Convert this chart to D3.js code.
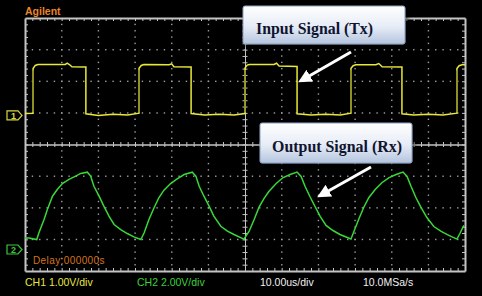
<!DOCTYPE html>
<html>
<head>
<meta charset="utf-8">
<script src="https://cdn.jsdelivr.net/npm/d3@7"></script>
<style>
body { margin: 0; background: #000; }
svg { display: block; }
</style>
</head>
<body>
<div id="chart"></div>
<script>
// ---- data: time in us, volts ----
const ch1Points = [
	[-60, 0.03], [-57.8, 0.04], [-57.8, 1.45], [-57.2, 1.55], [-56.5, 1.58], [-49, 1.58], [-48.5, 1.62], [-47.8, 1.57], [-47.2, 1.51], [-43.4, 1.50],
	[-43.4, 0.02], [-40, -0.03], [-36, 0.01], [-32, -0.02], [-28.9, 0.04],
	[-28.9, 1.46], [-28.3, 1.55], [-27.6, 1.58], [-20.7, 1.57], [-20.0, 1.60], [-19.4, 1.51], [-14.7, 1.50],
	[-14.7, 0.03], [-11, -0.02], [-7, 0.01], [-3, -0.02], [0, 0.03],
	[0, 1.47], [0.6, 1.56], [1.2, 1.58], [7.9, 1.58], [8.6, 1.62], [9.3, 1.53], [14.2, 1.52],
	[14.2, 0.02], [18, -0.02], [22, 0.01], [26, -0.02], [28.9, 0.04],
	[28.9, 1.46], [29.5, 1.54], [30.2, 1.57], [35.7, 1.57], [36.5, 1.61], [37.4, 1.51], [42.8, 1.50],
	[42.8, 0.02], [46, -0.02], [50, 0.01], [54, -0.02], [57.8, 0.04],
	[57.8, 1.45], [58.4, 1.54], [59.2, 1.57], [60, 1.57]
]

const ch2Points = [
	[-60, 0.73], [-58.9, 0.73], [-56.8, 0.63], [-56.2, 1.06], [-54.8, 1.90], [-53.9, 2.53], [-52.5, 3.37], [-51.2, 3.79], [-49.8, 4.17], [-48.0, 4.43],
	[-46.2, 4.64], [-44.8, 4.81], [-43.0, 4.89], [-42.1, 4.64], [-41.2, 4.00], [-39.8, 3.37], [-38.5, 2.74], [-37.1, 2.11], [-35.7, 1.58], [-33.9, 1.26],
	[-32.1, 1.01], [-30.3, 0.80], [-28.4, 0.63],
	[-27.5, 1.06], [-26.2, 1.90], [-24.8, 2.64], [-23.5, 3.27], [-22.1, 3.75], [-20.3, 4.17], [-18.5, 4.47], [-16.6, 4.74], [-14.4, 4.89],
	[-13.4, 4.64], [-12.5, 4.00], [-11.2, 3.37], [-9.8, 2.74], [-8.5, 2.11], [-6.6, 1.47], [-4.8, 1.16], [-3.0, 0.95], [-0.3, 0.66],
	[1.1, 1.14], [2.5, 1.90], [3.8, 2.66], [5.2, 3.23], [6.5, 3.67], [8.5, 4.17], [10.4, 4.55], [12.3, 4.74], [14.2, 4.90],
	[15.3, 4.62], [16.4, 3.98], [17.7, 3.35], [19.1, 2.72], [20.5, 2.09], [22.1, 1.52], [24.0, 1.20], [25.9, 0.95], [28.9, 0.66],
	[29.7, 1.14], [31.1, 1.96], [32.5, 2.72], [33.8, 3.29], [35.5, 3.79], [37.4, 4.24], [39.3, 4.55], [41.2, 4.74], [43.1, 4.90],
	[44.2, 4.62], [45.3, 3.98], [46.6, 3.29], [48.0, 2.66], [49.6, 2.02], [51.5, 1.45], [53.5, 1.14], [55.6, 0.89], [57.8, 0.66],
	[58.6, 1.01], [59.7, 1.52]
]

const statusLabels = ["CH1 1.00V/div", "CH2 2.00V/div", "10.00us/div", "10.0MSa/s"]
const statusColors = ["#e6e640", "#3cd03c", "#f0f0f0", "#f0f0f0"]
const calloutLabels = ["Input Signal (Tx)", "Output Signal (Rx)"]

const width = 482
const height = 296
const plot = { left: 25, right: 465, top: 18, bottom: 271 }

// 12 horizontal divisions of 10 us, 8 vertical divisions
const x = d3.scaleLinear().domain([-60, 60]).range([plot.left, plot.right])
const yDiv = d3.scaleLinear().domain([-4, 4]).range([plot.bottom, plot.top])
// CH1 1 V/div, ground 0.95 div above centre ; CH2 2 V/div, ground 3.32 div below
const y1 = d3.scaleLinear().domain([-4.95, 3.05]).range([plot.bottom, plot.top])
const y2 = d3.scaleLinear().domain([-1.36, 14.64]).range([plot.bottom, plot.top])

const svg = d3.select("#chart")
	.append("svg")
	.attr("width", width)
	.attr("height", height)

svg.append("rect")
	.attr("width", width)
	.attr("height", height)
	.attr("fill", "#000")

// ---- dotted grid ----
const grid = svg.append("g").attr("fill", "#a0a0a0")
const minorX = d3.range(-58, 60, 2)
const minorY = d3.range(-3.8, 4, 0.2)

d3.range(-50, 60, 10).filter(t => t != 0).forEach(t => {
	grid.selectAll(null)
		.data(minorY)
		.enter()
		.append("rect")
		.attr("x", x(t) - 0.6)
		.attr("y", d => yDiv(d) - 0.6)
		.attr("width", 1.4)
		.attr("height", 1.4)
})

d3.range(-3, 4, 1).filter(v => v != 0).forEach(v => {
	grid.selectAll(null)
		.data(minorX)
		.enter()
		.append("rect")
		.attr("x", d => x(d) - 0.6)
		.attr("y", yDiv(v) - 0.6)
		.attr("width", 1.4)
		.attr("height", 1.4)
})

// ---- border ticks and centre cross, made with d3 axes ----
const styleAxis = (g, w) => {
	g.selectAll("path").attr("stroke", "#c4c4c4").attr("stroke-width", w)
	g.selectAll("line").attr("stroke", "#c4c4c4")
	g.selectAll("text").remove()
}

svg.append("g")
	.attr("transform", "translate(0," + plot.top + ")")
	.call(d3.axisTop(x).tickValues(minorX).tickSize(-3).tickSizeOuter(0).tickFormat(""))
	.call(g => styleAxis(g, 2))

svg.append("g")
	.attr("transform", "translate(0," + plot.bottom + ")")
	.call(d3.axisBottom(x).tickValues(minorX).tickSize(-3).tickSizeOuter(0).tickFormat(""))
	.call(g => styleAxis(g, 2))

svg.append("g")
	.attr("transform", "translate(" + plot.left + ",0)")
	.call(d3.axisLeft(yDiv).tickValues(minorY).tickSize(-3).tickSizeOuter(0).tickFormat(""))
	.call(g => styleAxis(g, 2))

svg.append("g")
	.attr("transform", "translate(" + plot.right + ",0)")
	.call(d3.axisRight(yDiv).tickValues(minorY).tickSize(-3).tickSizeOuter(0).tickFormat(""))
	.call(g => styleAxis(g, 2))

// centre cross with ticks on both sides
svg.append("g")
	.attr("transform", "translate(0," + yDiv(0) + ")")
	.call(d3.axisTop(x).tickValues(minorX).tickSize(2.5).tickSizeOuter(0).tickFormat(""))
	.call(g => styleAxis(g, 1))
svg.append("g")
	.attr("transform", "translate(0," + yDiv(0) + ")")
	.call(d3.axisBottom(x).tickValues(minorX).tickSize(2.5).tickSizeOuter(0).tickFormat(""))
	.call(g => styleAxis(g, 1))
svg.append("g")
	.attr("transform", "translate(" + x(0) + ",0)")
	.call(d3.axisLeft(yDiv).tickValues(minorY).tickSize(2.5).tickSizeOuter(0).tickFormat(""))
	.call(g => styleAxis(g, 1))
svg.append("g")
	.attr("transform", "translate(" + x(0) + ",0)")
	.call(d3.axisRight(yDiv).tickValues(minorY).tickSize(2.5).tickSizeOuter(0).tickFormat(""))
	.call(g => styleAxis(g, 1))

// trigger position mark
svg.append("path")
	.attr("d", "M" + (x(0) - 3) + "," + (plot.top + 1) + "h5l-2.5,4z")
	.attr("fill", "#d07a20")

// ---- traces ----
const line1 = d3.line().x(d => x(d[0])).y(d => y1(d[1]))
const line2 = d3.line().x(d => x(d[0])).y(d => y2(d[1]))

svg.append("path")
	.datum(ch1Points)
	.attr("d", line1)
	.attr("fill", "none")
	.attr("stroke", "#e8e838")
	.attr("stroke-width", 1.5)

// fast rising edges show up dimmer on the scope
const risingEdges = ch1Points.slice(1).map((p, i) => [ch1Points[i], p])
	.filter(s => s[0][0] == s[1][0] && s[1][1] > s[0][1])
svg.selectAll(".edge")
	.data(risingEdges)
	.enter()
	.append("line")
	.attr("class", "edge")
	.attr("x1", d => x(d[0][0]))
	.attr("x2", d => x(d[1][0]))
	.attr("y1", d => y1(d[0][1]) - 1)
	.attr("y2", d => y1(d[1][1]) + 2)
	.attr("stroke", "#8a8a20")
	.attr("stroke-width", 1.6)

svg.append("path")
	.datum(ch2Points)
	.attr("d", line2)
	.attr("fill", "none")
	.attr("stroke", "#38d838")
	.attr("stroke-width", 1.5)

// ---- channel ground markers ----
const markers = [
	{ label: "1", color: "#d8d840", y: y1(0) + 1 },
	{ label: "2", color: "#3cc83c", y: y2(0) }
]
markers.forEach(m => {
	svg.append("path")
		.attr("d", "M7," + (m.y - 4.5) + "h11l4,4.5l-4,4.5h-11z")
		.attr("fill", "none")
		.attr("stroke", m.color)
		.attr("stroke-width", 1.2)
	svg.append("text")
		.attr("x", 13.5)
		.attr("y", m.y + 3.5)
		.attr("text-anchor", "middle")
		.style("font", "bold 9px 'Liberation Sans', Arial, sans-serif")
		.attr("fill", m.color)
		.text(m.label)
})

// ---- screen texts ----
svg.append("text")
	.attr("x", 25)
	.attr("y", 15)
	.style("font", "bold 10.5px 'Liberation Sans', Arial, sans-serif")
	.attr("fill", "#e8862a")
	.text("Agilent")

svg.append("text")
	.attr("x", 33)
	.attr("y", 264)
	.style("font", "10px 'Liberation Sans', Arial, sans-serif")
	.attr("letter-spacing", 0.4)
	.attr("fill", "#d4741e")
	.text("Delay:000000s")

const statusX = [25, 137, 260, 363]
statusLabels.forEach((s, i) => {
	svg.append("text")
		.attr("x", statusX[i])
		.attr("y", 286)
		.style("font", "10.5px 'Liberation Sans', Arial, sans-serif")
		.attr("fill", statusColors[i])
		.text(s)
})

// ---- callouts ----
const defs = svg.append("defs")
const grad = defs.append("linearGradient")
	.attr("id", "boxFill")
	.attr("x1", 0).attr("y1", 0).attr("x2", 0).attr("y2", 1)
grad.append("stop").attr("offset", "0%").attr("stop-color", "#ffffff")
grad.append("stop").attr("offset", "55%").attr("stop-color", "#e6ecf6")
grad.append("stop").attr("offset", "100%").attr("stop-color", "#b4c4de")

const shadow = defs.append("filter").attr("id", "shadow")
	.attr("x", "-10%").attr("y", "-20%").attr("width", "130%").attr("height", "160%")
shadow.append("feDropShadow")
	.attr("dx", 2).attr("dy", 3).attr("stdDeviation", 2)
	.attr("flood-color", "#000").attr("flood-opacity", 0.6)

defs.append("marker")
	.attr("id", "head")
	.attr("viewBox", "0 0 10 10")
	.attr("refX", 5).attr("refY", 5)
	.attr("markerWidth", 4.5).attr("markerHeight", 4.5)
	.attr("orient", "auto")
	.append("path")
	.attr("d", "M0,0L10,5L0,10z")
	.attr("fill", "#fff")

const boxes = [
	{ x: 243, y: 6, w: 162, h: 38, tx: 256, ty: 34, tl: 117 },
	{ x: 260, y: 123, w: 152, h: 40, tx: 272, ty: 152, tl: 130 }
]
boxes.forEach((b, i) => {
	svg.append("rect")
		.attr("x", b.x).attr("y", b.y)
		.attr("width", b.w).attr("height", b.h)
		.attr("rx", 2)
		.attr("fill", "url(#boxFill)")
		.attr("stroke", "#8ea0c0")
		.attr("stroke-width", 1)
		.attr("filter", "url(#shadow)")
	svg.append("text")
		.attr("x", b.tx).attr("y", b.ty)
		.attr("textLength", b.tl)
		.attr("lengthAdjust", "spacingAndGlyphs")
		.style("font", "bold 16px 'Liberation Serif', 'Times New Roman', serif")
		.attr("fill", "#10142e")
		.text(calloutLabels[i])
})

const arrows = [
	[351, 52, 304, 79],
	[371, 167, 323, 194]
]
arrows.forEach(a => {
	svg.append("line")
		.attr("x1", a[0]).attr("y1", a[1])
		.attr("x2", a[2]).attr("y2", a[3])
		.attr("stroke", "#fff")
		.attr("stroke-width", 3)
		.attr("marker-end", "url(#head)")
})
</script>
</body>
</html>
